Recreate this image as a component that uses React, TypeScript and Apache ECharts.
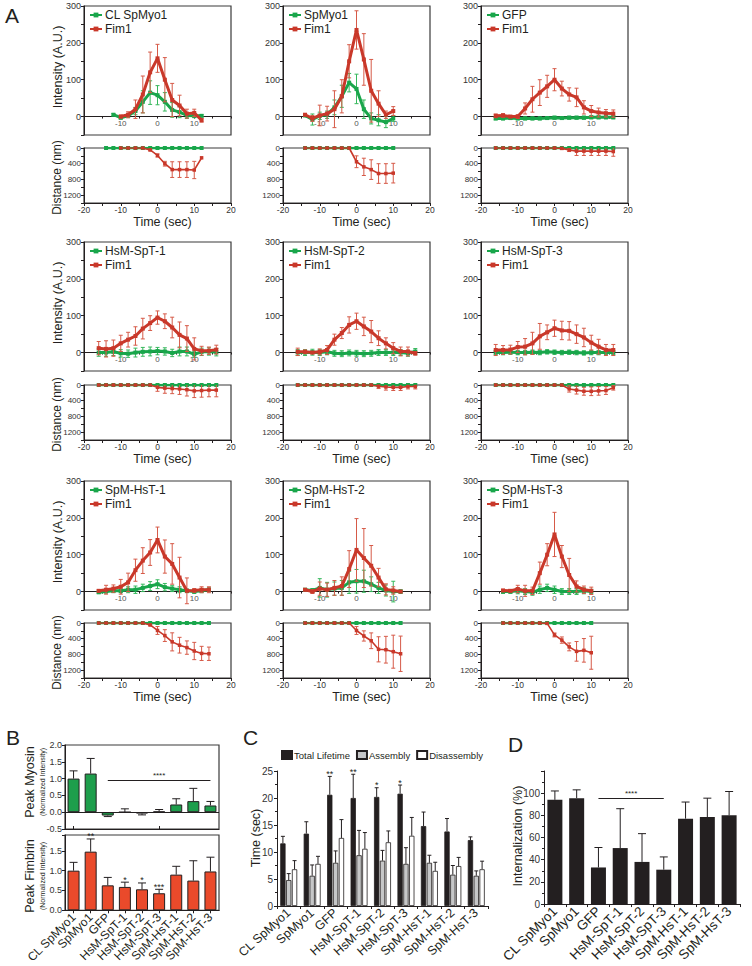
import React, { useEffect, useRef } from 'react';
import * as echarts from 'echarts';

const FONT = "'Liberation Sans', Arial, Helvetica, sans-serif";
const INK = '#231f20';
const RED = '#c9382a';
const RED_ERR = '#d65a48';
const GREEN = '#19a64b';
const GREEN_ERR = '#36b85c';
const B_GREEN = '#1e9e4c';
const B_RED = '#ea4a2b';
const GRAY = '#c6c7c8';

// ---------- time points (sec) ----------
const T16_16 = [-16, -14, -12, -10, -8, -6, -4, -2, 0, 2, 4, 6, 8, 10, 12, 14, 16];
const T16_14 = [-16, -14, -12, -10, -8, -6, -4, -2, 0, 2, 4, 6, 8, 10, 12, 14];
const T14_12 = [-14, -12, -10, -8, -6, -4, -2, 0, 2, 4, 6, 8, 10, 12];
const T14_10 = [-14, -12, -10, -8, -6, -4, -2, 0, 2, 4, 6, 8, 10];
const T12_12 = [-12, -10, -8, -6, -4, -2, 0, 2, 4, 6, 8, 10, 12];
const T10_12 = [-10, -8, -6, -4, -2, 0, 2, 4, 6, 8, 10, 12];

// ---------- Panel A data ----------
// 1 CL SpMyo1
const gI1 = [5, -3, 2, 15, 40, 65, 58, 40, 18, 12, 3, 2, 2];
const gIE1 = [3, 4, 5, 10, 30, 32, 26, 25, 20, 15, 8, 5, 3];
const rI1 = [0, 5, 20, 60, 120, 158, 100, 45, 30, 8, 10, -10];
const rIE1 = [4, 8, 25, 50, 55, 38, 60, 45, 28, 12, 10, 5];
const gD1 = [0, 0, 0, 0, 0, 0, 0, 0, 0, 0, 0, 0, 0, 0];
const rD1 = [0, 0, 0, 0, 50, 190, 400, 550, 550, 550, 560, 250];
const rDE1 = [0, 0, 0, 0, 20, 40, 60, 200, 200, 200, 220, 0];
// 2 SpMyo1
const gI2 = [3, -8, 2, 5, 25, 55, 92, 75, 20, -5, -10, -15, -5];
const gIE2 = [3, 15, 10, 10, 20, 30, 25, 40, 25, 15, 15, 15, 8];
const rI2 = [5, -5, 3, 8, 20, 55, 150, 235, 155, 70, 35, 5, 15];
const rIE2 = [3, 8, 28, 20, 50, 45, 45, 52, 70, 85, 35, 10, 12];
const gD2 = [0, 0, 0, 0, 0, 0, 0, 0, 0, 0, 0, 0, 0];
const rD2 = [0, 0, 0, 0, 0, 0, 0, 350, 480, 550, 650, 650, 640];
const rDE2 = [0, 0, 0, 0, 0, 0, 0, 150, 220, 250, 250, 250, 250];
// 3 GFP
const gI3 = [-5, -5, -4, -5, -5, -5, -5, -4, -3, -4, -3, -3, -3, -2, -2, -2, -2];
const gIE3 = [4, 4, 4, 4, 4, 4, 4, 4, 4, 4, 4, 4, 4, 4, 4, 4, 4];
const rI3 = [2, 3, 0, 0, 22, 47, 65, 82, 100, 76, 60, 52, 25, 15, 11, 9, 8];
const rIE3 = [5, 5, 3, 5, 15, 35, 35, 30, 30, 20, 18, 25, 18, 15, 12, 10, 10];
const gD3 = [0, 0, 0, 0, 0, 0, 0, 0, 0, 0, 0, 0, 0, 0, 0, 0, 0];
const rD3 = [0, 0, 0, 0, 0, 0, 0, 0, 0, 10, 50, 80, 80, 80, 80, 80, 90];
const rDE3 = [0, 0, 0, 0, 0, 0, 0, 0, 0, 0, 40, 110, 110, 110, 110, 110, 120];
// 4 HsM-SpT-1
const gI4 = [0, 0, 2, -2, -3, 0, 2, 3, 4, 3, -1, 3, 3, -5, 2, 3, 1];
const gIE4 = [10, 10, 10, 10, 10, 12, 12, 12, 10, 10, 10, 12, 12, 8, 10, 10, 10];
const rI4 = [12, 10, 12, 25, 35, 45, 65, 80, 95, 85, 68, 48, 38, 10, 5, 5, 8];
const rIE4 = [18, 22, 22, 22, 20, 25, 28, 20, 18, 20, 28, 35, 35, 30, 12, 10, 12];
const gD4 = [0, 0, 0, 0, 0, 0, 0, 0, 0, 0, 0, 0, 0, 0, 0, 0, 0];
const rD4 = [0, 0, 0, 0, 0, 0, 0, 0, 60, 80, 90, 100, 120, 150, 140, 130, 130];
const rDE4 = [0, 0, 0, 0, 0, 0, 0, 0, 100, 130, 130, 140, 160, 170, 170, 170, 170];
// 5 HsM-SpT-2
const gI5 = [0, 0, 1, 0, 2, -2, -3, -1, -2, -3, -2, 0, 0, 0, 0, -2, 3];
const gIE5 = [8, 8, 8, 8, 8, 8, 8, 8, 8, 8, 8, 8, 8, 8, 8, 8, 8];
const rI5 = [2, 2, 0, 2, 7, 35, 53, 75, 85, 71, 57, 39, 25, 12, 3, 3, -2];
const rIE5 = [10, 5, 3, 8, 12, 15, 15, 22, 22, 25, 30, 20, 15, 15, 12, 12, 5];
const gD5 = [0, 0, 0, 0, 0, 0, 0, 0, 0, 0, 0, 0, 0, 0, 0, 0, 0];
const rD5 = [0, 0, 0, 0, 0, 0, 0, 0, 0, 0, 0, 30, 50, 60, 60, 40, 40];
const rDE5 = [0, 0, 0, 0, 0, 0, 0, 0, 0, 0, 0, 60, 80, 80, 80, 60, 60];
// 6 HsM-SpT-3
const gI6 = [0, 0, 1, 0, 0, 1, 0, 2, 1, 0, 1, 0, -1, 0, 0, 0, 0];
const gIE6 = [6, 6, 6, 6, 6, 6, 6, 6, 6, 6, 6, 6, 6, 6, 6, 6, 6];
const rI6 = [7, 7, 8, 15, 16, 25, 44, 55, 66, 60, 59, 50, 41, 27, 16, 7, 7];
const rIE6 = [15, 12, 12, 15, 22, 30, 35, 20, 22, 25, 25, 25, 25, 20, 20, 15, 15];
const gD6 = [0, 0, 0, 0, 0, 0, 0, 0, 0, 0, 0, 0, 0, 0, 0, 0, 0];
const rD6 = [0, 0, 0, 0, 0, 0, 0, 0, 0, 0, 100, 130, 160, 160, 150, 140, 70];
const rDE6 = [0, 0, 0, 0, 0, 0, 0, 0, 0, 0, 80, 100, 100, 110, 110, 100, 60];
// 7 SpM-HsT-1
const gI7 = [-2, 0, 2, 2, 5, 5, 10, 15, 20, 12, 8, 5, 2, 0, 2, 5];
const gIE7 = [3, 3, 5, 5, 8, 10, 10, 12, 12, 10, 8, 8, 5, 5, 5, 5];
const rI7 = [2, 5, 8, 13, 25, 58, 84, 106, 140, 95, 75, 38, 2, 3, 5, 5];
const rIE7 = [3, 12, 10, 20, 25, 30, 35, 35, 35, 45, 55, 55, 35, 5, 8, 8];
const gD7 = [0, 0, 0, 0, 0, 0, 0, 0, 0, 0, 0, 0, 0, 0, 0, 0];
const rD7 = [0, 0, 0, 0, 0, 0, 0, 50, 190, 320, 480, 565, 626, 713, 774, 783];
const rDE7 = [0, 0, 0, 0, 0, 0, 0, 20, 100, 150, 230, 200, 170, 220, 180, 170];
// 8 SpM-HsT-2
const gI8 = [5, 3, 10, 5, 8, 10, 25, 28, 28, 20, 10, 3, 0, 0];
const gIE8 = [3, 5, 25, 20, 18, 20, 30, 32, 30, 20, 15, 15, 28, 5];
const rI8 = [5, 0, 8, 5, 10, 15, 61, 113, 91, 70, 38, 6, 3, 0];
const rIE8 = [3, 5, 18, 18, 20, 25, 50, 85, 80, 55, 25, 15, 10, 3];
const gD8 = [0, 0, 0, 0, 0, 0, 0, 0, 0, 0, 0, 0, 0, 0];
const rD8 = [0, 0, 0, 0, 0, 0, 0, 191, 330, 452, 670, 680, 730, 783];
const rDE8 = [0, 0, 0, 0, 0, 0, 0, 100, 130, 200, 320, 340, 420, 450];
// 9 SpM-HsT-3
const gI9 = [0, 0, 2, 0, -2, 5, 10, 5, 0, 0, 0, 2, 0];
const gIE9 = [5, 5, 8, 8, 8, 10, 10, 10, 8, 8, 8, 8, 6];
const rI9 = [3, 2, 7, 2, 2, 50, 100, 155, 95, 45, 14, 5, 2];
const rIE9 = [3, 3, 10, 15, 10, 30, 30, 60, 30, 45, 15, 10, 10];
const gD9 = [0, 0, 0, 0, 0, 0, 0, 0, 0, 0, 0, 0, 0];
const rD9 = [0, 0, 0, 0, 0, 0, 10, 304, 435, 608, 722, 696, 757];
const rDE9 = [0, 0, 0, 0, 0, 0, 0, 50, 80, 100, 250, 300, 420];

// ---------- Panels B, C, D ----------
const categories = ['CL SpMyo1', 'SpMyo1', 'GFP', 'HsM-SpT-1', 'HsM-SpT-2', 'HsM-SpT-3', 'SpM-HsT-1', 'SpM-HsT-2', 'SpM-HsT-3'];

const myosin = [1.0, 1.15, -0.1, 0.0, -0.04, 0.02, 0.23, 0.33, 0.2];
const myosinErr = [0.23, 0.45, 0.03, 0.1, 0.04, 0.06, 0.17, 0.38, 0.12];
const fimbrin = [1.0, 1.48, 0.63, 0.59, 0.53, 0.43, 0.9, 0.75, 0.98];
const fimbrinErr = [0.21, 0.32, 0.2, 0.12, 0.16, 0.1, 0.21, 0.5, 0.36];
const fimbrinSig = ['', '**', '', '*', '*', '***', '', '', ''];

const total = [11.6, 13.4, 20.6, 20.0, 20.2, 20.8, 14.8, 13.8, 12.2];
const totalErr = [1.3, 2.2, 3.4, 4.4, 1.7, 1.6, 2.6, 2.4, 0.6];
const totalSig = ['', '', '**', '**', '*', '*', '', '', ''];
const assembly = [4.8, 5.6, 8.0, 9.4, 8.4, 7.8, 8.0, 5.8, 5.6];
const assemblyErr = [1.2, 2.0, 2.2, 4.6, 1.9, 3.0, 1.4, 1.7, 0.9];
const disassembly = [6.8, 7.8, 12.6, 10.6, 11.8, 13.0, 6.5, 7.4, 6.8];
const disassemblyErr = [1.6, 1.4, 3.4, 3.0, 2.1, 3.4, 1.6, 1.6, 1.5];

const internalization = [94, 95.5, 33, 50.5, 38, 31, 77, 78.5, 80];
const internalizationErr = [8, 7.5, 18, 35.5, 25.5, 11.5, 15, 17, 21.5];

const panels = [
  { name: categories[0], tG: T12_12, gI: gI1, gIE: gIE1, tR: T10_12, rI: rI1, rIE: rIE1, tDG: T14_12, gD: gD1, tDR: T10_12, rD: rD1, rDE: rDE1 },
  { name: categories[1], tG: T14_10, gI: gI2, gIE: gIE2, tR: T14_10, rI: rI2, rIE: rIE2, tDG: T14_10, gD: gD2, tDR: T14_10, rD: rD2, rDE: rDE2 },
  { name: 'GFP', tG: T16_16, gI: gI3, gIE: gIE3, tR: T16_16, rI: rI3, rIE: rIE3, tDG: T16_16, gD: gD3, tDR: T16_16, rD: rD3, rDE: rDE3 },
  { name: categories[3], tG: T16_16, gI: gI4, gIE: gIE4, tR: T16_16, rI: rI4, rIE: rIE4, tDG: T16_16, gD: gD4, tDR: T16_16, rD: rD4, rDE: rDE4 },
  { name: categories[4], tG: T16_16, gI: gI5, gIE: gIE5, tR: T16_16, rI: rI5, rIE: rIE5, tDG: T16_16, gD: gD5, tDR: T16_16, rD: rD5, rDE: rDE5 },
  { name: categories[5], tG: T16_16, gI: gI6, gIE: gIE6, tR: T16_16, rI: rI6, rIE: rIE6, tDG: T16_16, gD: gD6, tDR: T16_16, rD: rD6, rDE: rDE6 },
  { name: categories[6], tG: T16_14, gI: gI7, gIE: gIE7, tR: T16_14, rI: rI7, rIE: rIE7, tDG: T16_14, gD: gD7, tDR: T16_14, rD: rD7, rDE: rDE7 },
  { name: categories[7], tG: T14_12, gI: gI8, gIE: gIE8, tR: T14_12, rI: rI8, rIE: rIE8, tDG: T14_12, gD: gD8, tDR: T14_12, rD: rD8, rDE: rDE8 },
  { name: categories[8], tG: T14_10, gI: gI9, gIE: gIE9, tR: T14_10, rI: rI9, rIE: rIE9, tDG: T14_10, gD: gD9, tDR: T14_10, rD: rD9, rDE: rDE9 },
];

// ---------- layout ----------
const colLeft = [84, 283, 481];
const colW = 147;
const rowTopI = [6, 242, 481];
const hI = 129;
const rowTopD = [148, 385, 623];
const hD = 55;

const zip2 = (t: number[], v: number[]) => t.map((x, i) => [x, v[i]]);
const zip3 = (t: number[], v: number[], e: number[]) => t.map((x, i) => [x, v[i], e[i]]);

const errRender = (color: string, cap: number, lw: number) => (params: any, api: any) => {
  const x = api.value(0), y = api.value(1), e = api.value(2);
  if (!e) return { type: 'group', children: [] };
  const a = api.coord([x, y - e]);
  const b = api.coord([x, y + e]);
  const st = { stroke: color, lineWidth: lw };
  return {
    type: 'group',
    children: [
      { type: 'line', shape: { x1: a[0], y1: a[1], x2: b[0], y2: b[1] }, style: st },
      { type: 'line', shape: { x1: a[0] - cap, y1: a[1], x2: a[0] + cap, y2: a[1] }, style: st },
      { type: 'line', shape: { x1: b[0] - cap, y1: b[1], x2: b[0] + cap, y2: b[1] }, style: st },
    ],
  };
};

const barErrRender = (offset: number, cap: number, sig: string[] | null, fs: number) => (params: any, api: any) => {
  const i = api.value(0), v = api.value(1), e = api.value(2);
  const end = v >= 0 ? v + e : v - e;
  const p0 = api.coord([i, v]);
  const p1 = api.coord([i, end]);
  const x = p0[0] + offset;
  const st = { stroke: INK, lineWidth: 1 };
  const children: any[] = [
    { type: 'line', shape: { x1: x, y1: p0[1], x2: x, y2: p1[1] }, style: st },
    { type: 'line', shape: { x1: x - cap, y1: p1[1], x2: x + cap, y2: p1[1] }, style: st },
  ];
  const s = sig ? sig[params.dataIndex] : '';
  if (s) {
    children.push({
      type: 'text', x, y: p1[1] + 2,
      style: { text: s, fontSize: fs, fill: INK, textAlign: 'center', textVerticalAlign: 'bottom', fontFamily: FONT },
    });
  }
  return { type: 'group', children };
};

const is = (v: number, step: number) => Math.abs(v / step - Math.round(v / step)) < 1e-6;

function buildOption() {
  const grid: any[] = [];
  const xAxis: any[] = [];
  const yAxis: any[] = [];
  const series: any[] = [];
  const legend: any[] = [];
  const g: any[] = [];

  const tick = (len: number, inside = false) => ({ show: true, length: len, inside, lineStyle: { color: INK, width: 1 } });
  const line = { show: true, onZero: false, lineStyle: { color: INK, width: 1 } };
  const zeroOffset = -(hI * 50) / 350;

  panels.forEach((p, k) => {
    const c = k % 3, r = Math.floor(k / 3);
    const gi = grid.length;
    const gd = gi + 1;
    grid.push({ left: colLeft[c], top: rowTopI[r], width: colW, height: hI, show: true, borderColor: '#3a3a3a', borderWidth: 1.2 });
    grid.push({ left: colLeft[c], top: rowTopD[r], width: colW, height: hD, show: true, borderColor: '#3a3a3a', borderWidth: 1.2 });

    xAxis.push({
      type: 'value', gridIndex: gi, min: -20, max: 20, interval: 5, position: 'bottom', offset: zeroOffset,
      axisLine: line, axisTick: tick(2),
      axisLabel: { fontSize: 8, color: '#555', margin: 3, formatter: (v: number) => (v === -10 || v === 0 || v === 10 ? String(v) : '') },
      splitLine: { show: false },
    });
    yAxis.push({
      type: 'value', gridIndex: gi, min: -50, max: 300, interval: 50,
      axisLine: line, axisTick: tick(3),
      axisLabel: { fontSize: 9, color: '#333', margin: 3, formatter: (v: number) => (v >= 0 && is(v, 100) ? String(v) : '') },
      splitLine: { show: false },
    });
    xAxis.push({
      type: 'value', gridIndex: gd, min: -20, max: 20, interval: 5, position: 'bottom',
      axisLine: line, axisTick: tick(3),
      axisLabel: { fontSize: 8.5, color: '#333', margin: 2, formatter: (v: number) => (is(v, 10) ? String(v) : '') },
      splitLine: { show: false },
    });
    yAxis.push({
      type: 'value', gridIndex: gd, min: 0, max: 1400, interval: 200, inverse: true,
      axisLine: line, axisTick: tick(3),
      axisLabel: { fontSize: 8, color: '#333', margin: 3, formatter: (v: number) => (is(v, 400) && v <= 1200 ? String(v) : '') },
      splitLine: { show: false },
    });

    series.push(
      { type: 'custom', name: p.name + ' sd', xAxisIndex: gi, yAxisIndex: gi, data: zip3(p.tG, p.gI, p.gIE), renderItem: errRender(GREEN_ERR, 2, 1), encode: { x: 0, y: 1 }, clip: true, z: 2, silent: true },
      { type: 'line', name: p.name, xAxisIndex: gi, yAxisIndex: gi, data: zip2(p.tG, p.gI), symbol: 'rect', symbolSize: 4, lineStyle: { width: 3, color: GREEN }, itemStyle: { color: GREEN }, z: 3 },
      { type: 'custom', name: 'Fim1 sd', xAxisIndex: gi, yAxisIndex: gi, data: zip3(p.tR, p.rI, p.rIE), renderItem: errRender(RED_ERR, 2, 1), encode: { x: 0, y: 1 }, clip: true, z: 4, silent: true },
      { type: 'line', name: 'Fim1', xAxisIndex: gi, yAxisIndex: gi, data: zip2(p.tR, p.rI), symbol: 'rect', symbolSize: 4, lineStyle: { width: 3, color: RED }, itemStyle: { color: RED }, z: 5 },
      { type: 'line', name: p.name + ' distance', xAxisIndex: gd, yAxisIndex: gd, data: zip2(p.tDG, p.gD), symbol: 'rect', symbolSize: 4, lineStyle: { width: 2.5, color: GREEN }, itemStyle: { color: GREEN }, z: 3 },
      { type: 'custom', name: 'Fim1 distance sd', xAxisIndex: gd, yAxisIndex: gd, data: zip3(p.tDR, p.rD, p.rDE), renderItem: errRender(RED_ERR, 2, 1), encode: { x: 0, y: 1 }, clip: true, z: 4, silent: true },
      { type: 'line', name: 'Fim1 distance', xAxisIndex: gd, yAxisIndex: gd, data: zip2(p.tDR, p.rD), symbol: 'rect', symbolSize: 3.5, lineStyle: { width: 1.6, color: RED }, itemStyle: { color: RED }, z: 5 },
    );

    legend.push({
      data: [p.name, 'Fim1'], orient: 'vertical', left: colLeft[c] + 5, top: rowTopI[r] + 3,
      itemWidth: 12, itemHeight: 6, itemGap: 2, padding: 0, selectedMode: false,
      textStyle: { fontSize: 12, color: INK, fontFamily: FONT, padding: [0, 0, 0, -2] },
    });

    g.push({
      type: 'text', x: colLeft[c] + colW / 2 + 5, y: rowTopD[r] + hD + 19,
      style: { text: 'Time (sec)', fontSize: 12.5, fill: INK, textAlign: 'center', textVerticalAlign: 'middle', fontFamily: FONT },
    });
    if (c === 0) {
      g.push({
        type: 'text', x: 58, y: rowTopI[r] + 61, rotation: Math.PI / 2,
        style: { text: 'Intensity (A.U.)', fontSize: 12.5, fill: INK, textAlign: 'center', textVerticalAlign: 'middle', fontFamily: FONT },
      });
      g.push({
        type: 'text', x: 57, y: rowTopD[r] + hD / 2 + 2, rotation: Math.PI / 2,
        style: { text: 'Distance (nm)', fontSize: 12, fill: INK, textAlign: 'center', textVerticalAlign: 'middle', fontFamily: FONT },
      });
    }
  });

  // ---------- B ----------
  const bTop = grid.length;
  grid.push({ left: 65, top: 745, width: 154, height: 84, show: true, borderColor: '#3a3a3a', borderWidth: 1.2 });
  const bBot = grid.length;
  grid.push({ left: 65, top: 835, width: 154, height: 84, show: true, borderColor: '#3a3a3a', borderWidth: 1.2 });
  const catLabel = (fs: number, rot: number) => ({ fontSize: fs, color: INK, rotate: rot, margin: 5, interval: 0, fontFamily: FONT });

  xAxis.push({ type: 'category', gridIndex: bTop, data: categories, axisLine: line, axisTick: { ...tick(3, true), alignWithLabel: true }, axisLabel: { show: false } });
  yAxis.push({
    type: 'value', gridIndex: bTop, min: -0.5, max: 2.0, interval: 0.5, axisLine: line, axisTick: tick(3),
    axisLabel: { fontSize: 9, color: '#333', margin: 3, formatter: (v: number) => v.toFixed(1) }, splitLine: { show: false },
  });
  xAxis.push({ type: 'category', gridIndex: bBot, data: categories, axisLine: line, axisTick: { ...tick(3), alignWithLabel: true }, axisLabel: catLabel(12, 45) });
  yAxis.push({
    type: 'value', gridIndex: bBot, min: 0, max: 1.9, interval: 0.5, axisLine: line, axisTick: tick(3),
    axisLabel: { fontSize: 9, color: '#333', margin: 3, formatter: (v: number) => (is(v, 0.5) ? v.toFixed(1) : '') }, splitLine: { show: false },
  });

  series.push(
    {
      type: 'bar', name: 'Peak Myosin', xAxisIndex: bTop, yAxisIndex: bTop, data: myosin, barWidth: 12,
      itemStyle: { color: B_GREEN, borderColor: INK, borderWidth: 1 }, z: 2,
      markLine: {
        silent: true, symbol: ['none', 'none'], label: { show: false },
        lineStyle: { color: INK, width: 1, type: 'solid' },
        data: [
          [{ coord: ['GFP', 0.95], label: { show: true, position: 'insideMiddleTop', formatter: '****', fontSize: 8, color: INK, distance: 1 } }, { coord: ['SpM-HsT-3', 0.95] }],
          { yAxis: 0 },
        ],
      },
    },
    { type: 'custom', name: 'Peak Myosin sd', xAxisIndex: bTop, yAxisIndex: bTop, data: categories.map((_, i) => [i, myosin[i], myosinErr[i]]), renderItem: barErrRender(0, 4, null, 9), encode: { x: 0, y: 1 }, z: 3, silent: true },
    { type: 'bar', name: 'Peak Fimbrin', xAxisIndex: bBot, yAxisIndex: bBot, data: fimbrin, barWidth: 12, itemStyle: { color: B_RED, borderColor: INK, borderWidth: 1 }, z: 2 },
    { type: 'custom', name: 'Peak Fimbrin sd', xAxisIndex: bBot, yAxisIndex: bBot, data: categories.map((_, i) => [i, fimbrin[i], fimbrinErr[i]]), renderItem: barErrRender(0, 4, fimbrinSig, 9), encode: { x: 0, y: 1 }, z: 3, silent: true },
  );

  g.push({ type: 'text', x: 30, y: 782, rotation: Math.PI / 2, style: { text: 'Peak Myosin', fontSize: 12.5, fill: INK, textAlign: 'center', textVerticalAlign: 'middle', fontFamily: FONT } });
  g.push({ type: 'text', x: 42, y: 782, rotation: Math.PI / 2, style: { text: '(Normalized Intensity)', fontSize: 7, fill: INK, textAlign: 'center', textVerticalAlign: 'middle', fontFamily: FONT } });
  g.push({ type: 'text', x: 30, y: 876, rotation: Math.PI / 2, style: { text: 'Peak Fimbrin', fontSize: 12.5, fill: INK, textAlign: 'center', textVerticalAlign: 'middle', fontFamily: FONT } });
  g.push({ type: 'text', x: 42, y: 876, rotation: Math.PI / 2, style: { text: '(Normalized Intensity)', fontSize: 7, fill: INK, textAlign: 'center', textVerticalAlign: 'middle', fontFamily: FONT } });

  // ---------- C ----------
  const cG = grid.length;
  grid.push({ left: 277, top: 771, width: 211, height: 135 });
  xAxis.push({ type: 'category', gridIndex: cG, data: categories, axisLine: line, axisTick: tick(3), axisLabel: catLabel(12.5, 42) });
  yAxis.push({
    type: 'value', gridIndex: cG, min: 0, max: 25, interval: 5, axisLine: line, axisTick: tick(3),
    minorTick: { show: true, splitNumber: 2, length: 2, lineStyle: { color: INK } },
    axisLabel: { fontSize: 10, color: '#333', margin: 4 }, splitLine: { show: false },
  });
  const cbw = 5.3;
  const cOff = cbw * 1.1;
  series.push(
    { type: 'bar', name: 'Total Lifetime', xAxisIndex: cG, yAxisIndex: cG, data: total, barWidth: cbw, barGap: '10%', itemStyle: { color: INK, borderColor: INK, borderWidth: 0.8 } },
    { type: 'bar', name: 'Assembly', xAxisIndex: cG, yAxisIndex: cG, data: assembly, barWidth: cbw, barGap: '10%', itemStyle: { color: GRAY, borderColor: INK, borderWidth: 0.8 } },
    { type: 'bar', name: 'Disassembly', xAxisIndex: cG, yAxisIndex: cG, data: disassembly, barWidth: cbw, barGap: '10%', itemStyle: { color: '#ffffff', borderColor: INK, borderWidth: 0.8 } },
    { type: 'custom', name: 'Total Lifetime sd', xAxisIndex: cG, yAxisIndex: cG, data: categories.map((_, i) => [i, total[i], totalErr[i]]), renderItem: barErrRender(-cOff, 2, totalSig, 9), encode: { x: 0, y: 1 }, z: 3, silent: true },
    { type: 'custom', name: 'Assembly sd', xAxisIndex: cG, yAxisIndex: cG, data: categories.map((_, i) => [i, assembly[i], assemblyErr[i]]), renderItem: barErrRender(0, 2, null, 9), encode: { x: 0, y: 1 }, z: 3, silent: true },
    { type: 'custom', name: 'Disassembly sd', xAxisIndex: cG, yAxisIndex: cG, data: categories.map((_, i) => [i, disassembly[i], disassemblyErr[i]]), renderItem: barErrRender(cOff, 2, null, 9), encode: { x: 0, y: 1 }, z: 3, silent: true },
  );
  legend.push({
    data: ['Total Lifetime', 'Assembly', 'Disassembly'], left: 281, top: 750, icon: 'rect', itemWidth: 10, itemHeight: 8, itemGap: 6, padding: 0,
    selectedMode: false, textStyle: { fontSize: 9.5, color: INK, fontFamily: FONT, padding: [0, 0, 0, -3] },
  });
  g.push({ type: 'text', x: 256, y: 838, rotation: Math.PI / 2, style: { text: 'Time (sec)', fontSize: 12.5, fill: INK, textAlign: 'center', textVerticalAlign: 'middle', fontFamily: FONT } });

  // ---------- D ----------
  const dG = grid.length;
  grid.push({ left: 544, top: 771, width: 196, height: 135 });
  xAxis.push({ type: 'category', gridIndex: dG, data: categories, axisLine: line, axisTick: tick(3), axisLabel: catLabel(13.5, 45) });
  yAxis.push({
    type: 'value', gridIndex: dG, min: 0, max: 120, interval: 20, axisLine: line, axisTick: tick(3),
    minorTick: { show: true, splitNumber: 2, length: 2, lineStyle: { color: INK } },
    axisLabel: { fontSize: 10, color: '#333', margin: 4, formatter: (v: number) => (v <= 100 ? String(v) : '') }, splitLine: { show: false },
  });
  series.push(
    {
      type: 'bar', name: 'Internalization', xAxisIndex: dG, yAxisIndex: dG, data: internalization, barWidth: 15,
      itemStyle: { color: INK },
      markLine: {
        silent: true, symbol: ['none', 'none'], label: { show: false },
        lineStyle: { color: INK, width: 1, type: 'solid' },
        data: [[{ coord: ['GFP', 95], label: { show: true, position: 'insideMiddleTop', formatter: '****', fontSize: 8, color: INK, distance: 1 } }, { coord: ['HsM-SpT-3', 95] }]],
      },
    },
    { type: 'custom', name: 'Internalization sd', xAxisIndex: dG, yAxisIndex: dG, data: categories.map((_, i) => [i, internalization[i], internalizationErr[i]]), renderItem: barErrRender(0, 4, null, 9), encode: { x: 0, y: 1 }, z: 3, silent: true },
  );
  g.push({ type: 'text', x: 518, y: 836, rotation: Math.PI / 2, style: { text: 'Internalization (%)', fontSize: 12.5, fill: INK, textAlign: 'center', textVerticalAlign: 'middle', fontFamily: FONT } });

  // panel letters
  const letter = (t: string, x: number, y: number) => ({ type: 'text', x, y, style: { text: t, fontSize: 21, fill: INK, fontFamily: FONT, textAlign: 'left', textVerticalAlign: 'top' } });
  g.push(letter('A', 5, 5), letter('B', 6, 727), letter('C', 243, 727), letter('D', 508, 734));

  return {
    animation: false,
    backgroundColor: '#ffffff',
    textStyle: { fontFamily: FONT },
    grid, xAxis, yAxis, series, legend,
    graphic: { elements: g },
  };
}

export default function App() {
  const ref = useRef<HTMLDivElement>(null);
  useEffect(() => {
    document.body.style.margin = '0';
    const chart = echarts.init(ref.current as HTMLDivElement, null, { renderer: 'svg' });
    chart.setOption(buildOption() as any);
    return () => chart.dispose();
  }, []);
  return <div ref={ref} style={{ width: 752, height: 966 }} />;
}
